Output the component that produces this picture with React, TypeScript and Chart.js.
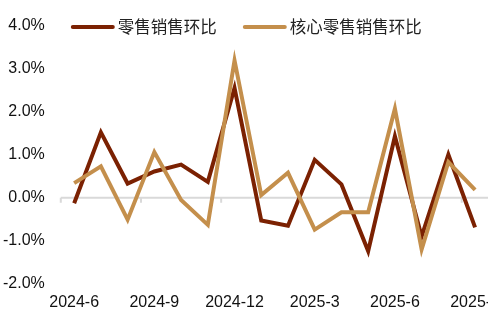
import React, { useEffect, useRef } from "react";
import { Chart, registerables } from "chart.js";

Chart.register(...registerables);

const categories = [
  "2024-6", "2024-7", "2024-8", "2024-9", "2024-10", "2024-11", "2024-12",
  "2025-1", "2025-2", "2025-3", "2025-4", "2025-5", "2025-6", "2025-7", "2025-8", "2025-9",
];
const retailMoM = [-0.13, 1.52, 0.33, 0.61, 0.77, 0.37, 2.55, -0.53, -0.65, 0.88, 0.31, -1.24, 1.43, -0.9, 1.0, -0.69];
const coreRetailMoM = [0.34, 0.73, -0.51, 1.06, -0.05, -0.63, 3.19, 0.06, 0.58, -0.74, -0.34, -0.34, 2.07, -1.2, 0.83, 0.18];
const seriesNames = ["零售销售环比", "核心零售销售环比"];
const yTicks = { min: -2, max: 4, step: 1 };

const AXIS_FONT = 'Arial, "Liberation Sans", sans-serif';
const CJK_FONT = '"Noto Sans CJK SC", "Noto Sans", sans-serif';

const zeroLinePlugin = {
  id: "zeroLine",
  beforeDatasetsDraw(chart: any) {
    const { ctx, chartArea, scales } = chart;
    const xs = scales.x;
    const ys = scales.y;
    const y0 = ys.getPixelForValue(0);
    const step = xs.getPixelForValue(1) - xs.getPixelForValue(0);
    ctx.save();
    ctx.strokeStyle = "#d9d9d9";
    ctx.lineWidth = 2;
    ctx.beginPath();
    ctx.moveTo(chartArea.left, y0);
    ctx.lineTo(chartArea.right, y0);
    const n = chart.data.labels.length;
    for (let i = 0; i < n; i += 3) {
      const px = xs.getPixelForValue(i) - step / 2;
      ctx.moveTo(px, y0);
      ctx.lineTo(px, y0 + 5);
    }
    ctx.stroke();
    ctx.restore();
  },
};

const legendPlugin = {
  id: "customLegend",
  afterDraw(chart: any) {
    const { ctx, chartArea } = chart;
    ctx.save();
    ctx.font = `16.5px ${CJK_FONT}`;
    ctx.textBaseline = "middle";
    let x = chartArea.left + 10;
    const y = 27;
    chart.data.datasets.forEach((ds: any) => {
      ctx.strokeStyle = ds.borderColor;
      ctx.lineWidth = 4;
      ctx.lineCap = "round";
      ctx.beginPath();
      ctx.moveTo(x + 2, y);
      ctx.lineTo(x + 42, y);
      ctx.stroke();
      x += 47;
      ctx.fillStyle = "#222";
      ctx.fillText(ds.label, x, y);
      x += ctx.measureText(ds.label).width + 26;
    });
    ctx.restore();
  },
};

export default function App() {
  const ref = useRef<HTMLCanvasElement | null>(null);
  useEffect(() => {
    if (!ref.current) return;
    const chart = new Chart(ref.current, {
      type: "line",
      data: {
        labels: categories,
        datasets: [
          {
            label: seriesNames[0],
            data: retailMoM,
            borderColor: "#7B2102",
            backgroundColor: "#7B2102",
            borderWidth: 4,
            pointRadius: 0,
            tension: 0,
            order: 1,
          },
          {
            label: seriesNames[1],
            data: coreRetailMoM,
            borderColor: "#C48F4C",
            backgroundColor: "#C48F4C",
            borderWidth: 4,
            pointRadius: 0,
            tension: 0,
            order: 0,
          },
        ],
      },
      options: {
        animation: false,
        responsive: false,
        maintainAspectRatio: false,
        devicePixelRatio: 1,
        layout: { padding: { left: 0, top: 22, right: 0, bottom: 0 } },
        plugins: { legend: { display: false }, tooltip: { enabled: false } },
        scales: {
          x: {
            offset: true,
            grid: { display: false, drawTicks: false },
            border: { display: false },
            ticks: {
              autoSkip: false,
              maxRotation: 0,
              minRotation: 0,
              padding: 9,
              color: "#111",
              font: { family: AXIS_FONT, size: 16 },
              callback: (_v: any, i: number) => (i % 3 === 0 ? categories[i] : ""),
            },
          },
          y: {
            min: yTicks.min,
            max: yTicks.max,
            grid: { display: false, drawTicks: false },
            border: { display: false },
            ticks: {
              stepSize: yTicks.step,
              padding: 16,
              color: "#111",
              font: { family: AXIS_FONT, size: 16 },
              callback: (v: any) => Number(v).toFixed(1) + "%",
            },
          },
        },
      },
      plugins: [zeroLinePlugin, legendPlugin],
    });
    return () => chart.destroy();
  }, []);
  return (
    <div style={{ position: "fixed", left: 0, top: 0, width: 488, height: 316, overflow: "hidden", background: "#fff" }}>
      <canvas ref={ref} width={522} height={321} style={{ display: "block", marginLeft: -13 }} />
    </div>
  );
}
